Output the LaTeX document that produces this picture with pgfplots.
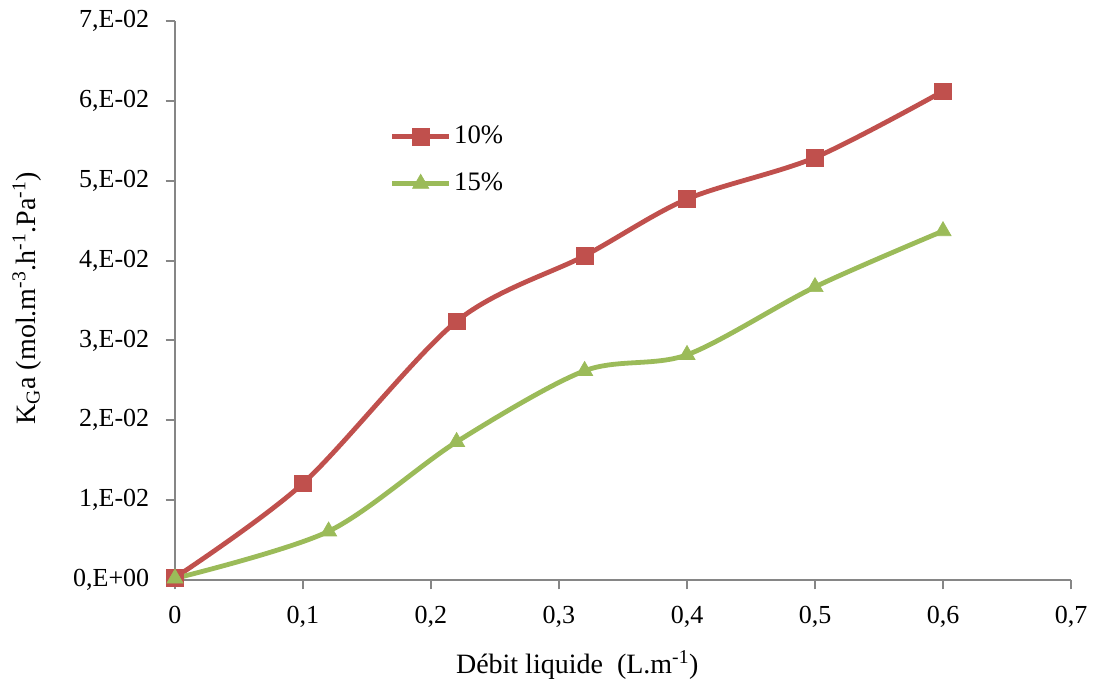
\documentclass[border=0pt]{standalone}
\usepackage{pgfplots}
\pgfplotsset{compat=1.18}
\usepackage{fontspec}
\setmainfont{Liberation Serif}
\definecolor{exred}{HTML}{C0504D}
\definecolor{exgreen}{HTML}{9BBB59}
\definecolor{axgray}{HTML}{868686}
\begin{document}
\fontsize{18.5}{22}\selectfont
\begin{tikzpicture}
\begin{axis}[
  scale only axis,
  width=672pt, height=419.25pt,
  xmin=0, xmax=0.7, ymin=0, ymax=0.07,
  axis x line*=bottom, axis y line*=left,
  axis line style={axgray, line width=1.5pt},
  every tick/.style={axgray, line width=1.5pt},
  tick align=outside, major tick length=7pt,
  xtick={0,0.1,0.2,0.3,0.4,0.5,0.6,0.7},
  xticklabels={0,{0,1},{0,2},{0,3},{0,4},{0,5},{0,6},{0,7}},
  ytick={0,0.01,0.02,0.03,0.04,0.05,0.06,0.07},
  yticklabels={{0,E+00},{1,E-02},{2,E-02},{3,E-02},{4,E-02},{5,E-02},{6,E-02},{7,E-02}},
  scaled y ticks=false,
  tick label style={font=\fontsize{19.5}{23}\selectfont},
  xticklabel style={yshift=-6pt},
  yticklabel style={xshift=-6pt},
  xlabel={D\'ebit liquide~~(L.m\textsuperscript{-1})},
  ylabel={K\textsubscript{G}a (mol.m\textsuperscript{-3}.h\textsuperscript{-1}.Pa\textsuperscript{-1})},
  label style={font=\fontsize{21}{25}\selectfont},
  xlabel style={at={(axis description cs:0.449,0)}, anchor=center, yshift=-64pt},
  ylabel style={at={(axis description cs:0,0.504)}, anchor=center, yshift=111pt},
  legend style={draw=none, fill=none, at={(axis description cs:0.235,0.822)}, anchor=north west,
    font=\fontsize{20}{24}\selectfont, row sep=15pt},
  legend cell align=left,
  legend image code/.code={
    \draw[#1, mark=none] (0cm,0cm) -- (1.5cm,0cm);
    \draw[#1, only marks] plot coordinates {(0.75cm,0cm)};
  },
  clip=false,
]
\path (axis description cs:-0.1953,-0.195) (axis description cs:1.0279,1.0376);
\addplot[exred, line width=3.6pt, smooth, tension=0.5, mark=square*, mark size=6.3pt,
  mark options={solid, line width=0.5pt}]
  coordinates {(0,0.0003) (0.1,0.0121) (0.22,0.0324) (0.32,0.0406) (0.4,0.0477) (0.5,0.0529) (0.6,0.0612)};
\addlegendentry{10\%}
\addplot[exgreen, line width=3.6pt, smooth, tension=0.5, mark=triangle*, mark size=7pt,
  mark options={solid, line width=0.5pt}]
  coordinates {(0,0.0002) (0.12,0.0061) (0.22,0.0173) (0.32,0.0262) (0.4,0.0282) (0.5,0.0367) (0.6,0.0437)};
\addlegendentry{15\%}
\end{axis}
\end{tikzpicture}
\end{document}
